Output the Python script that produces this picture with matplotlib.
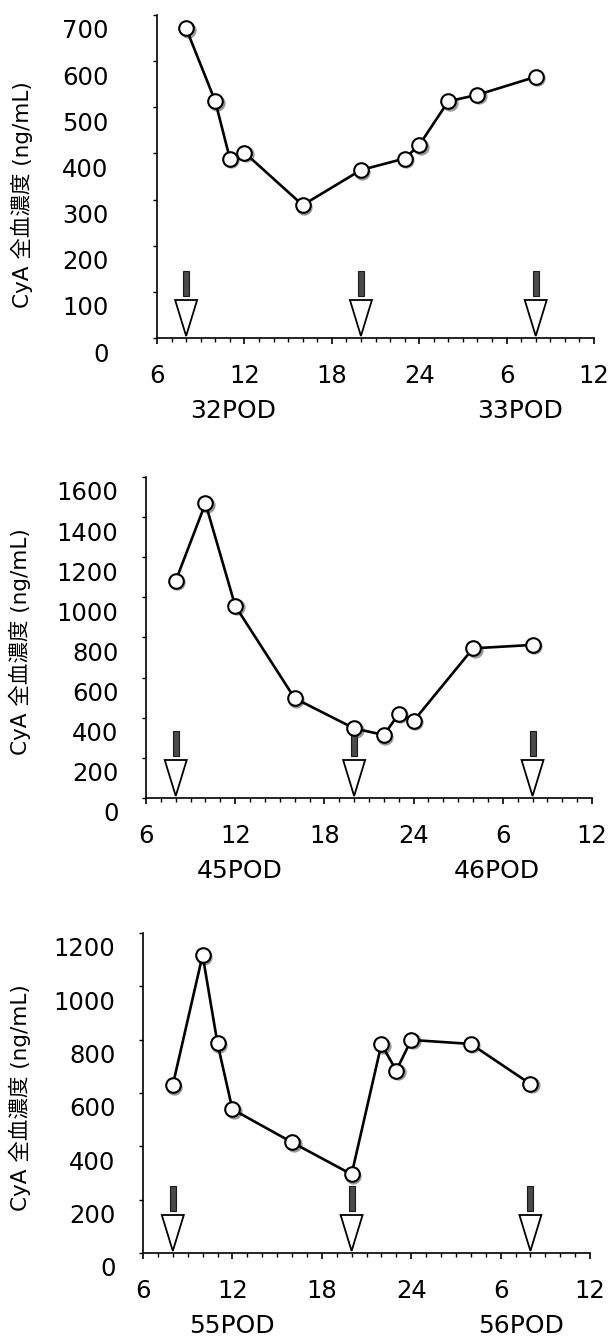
import matplotlib
matplotlib.use("Agg")
import matplotlib.pyplot as plt
from matplotlib import transforms
from matplotlib.patches import Polygon, Rectangle

plt.rcParams['font.family'] = ['DejaVu Sans', 'Noto Sans CJK JP']

W, H, DPI = 610, 1338, 100

# Sampling times (clock hour, continuing past 24 into the next day) and CyA levels
hours_32 = [8, 10, 11, 12, 16, 20, 23, 24, 26, 28, 32]
cya_32 = [671, 513, 389, 402, 288, 364, 389, 418, 513, 527, 566]

hours_45 = [8, 10, 12, 16, 20, 22, 23, 24, 28, 32]
cya_45 = [1083, 1469, 958, 497, 347, 314, 419, 384, 746, 763]

hours_55 = [8, 10, 11, 12, 16, 20, 22, 23, 24, 28, 32]
cya_55 = [630, 1117, 786, 539, 415, 295, 783, 684, 799, 784, 634]

# Dosing times (arrows)
dose_hours = [8, 20, 32]

x_ticks = [6, 12, 18, 24, 30, 36]
x_tick_labels = ['6', '12', '18', '24', '6', '12']

y_ticks_32 = [0, 100, 200, 300, 400, 500, 600, 700]
y_ticks_45 = [0, 200, 400, 600, 800, 1000, 1200, 1400, 1600]
y_ticks_55 = [0, 200, 400, 600, 800, 1000, 1200]

days_32 = ['32POD', '33POD']
days_45 = ['45POD', '46POD']
days_55 = ['55POD', '56POD']
day_label_hours_32 = [11.2, 30.9]
day_label_hours_45 = [12.3, 29.6]
day_label_hours_55 = [12.0, 31.4]

y_label = 'CyA 全血濃度 (ng/mL)'

# Panel boxes in pixels: left, right, top, bottom; y-label x and centre y; y tick pad (pt)
panels = [
    dict(h=hours_32, v=cya_32, yt=y_ticks_32, days=days_32, dh=day_label_hours_32,
         box=(157, 594, 15, 338), ylab=(22, 195), ypad=32),
    dict(h=hours_45, v=cya_45, yt=y_ticks_45, days=days_45, dh=day_label_hours_45,
         box=(146, 592, 477, 798), ylab=(20, 642), ypad=17),
    dict(h=hours_55, v=cya_55, yt=y_ticks_55, days=days_55, dh=day_label_hours_55,
         box=(143, 590, 933, 1253), ylab=(20, 1098), ypad=17),
]

fig = plt.figure(figsize=(W / DPI, H / DPI), dpi=DPI)
fig.patch.set_facecolor('white')

PX = 72.0 / DPI  # points per pixel
TICK_FS = 17.5


def dose_arrow(ax, x):
    """Open down-pointing triangle with a short dark stem, tip on the x-axis."""
    base = transforms.Affine2D().scale(fig.dpi / 100.0) + \
        transforms.ScaledTranslation(x, 0, ax.transData)
    tri = Polygon([(-11, 38), (11, 38), (0, 2)], closed=True, facecolor='white',
                  edgecolor='black', linewidth=1.3, transform=base, clip_on=False,
                  zorder=4)
    stem = Rectangle((-3, 42), 6, 25, facecolor='#4a4a4a', edgecolor='#1a1a1a',
                     linewidth=0.8, transform=base, clip_on=False, zorder=4)
    ax.add_patch(tri)
    ax.add_patch(stem)


for p in panels:
    left, right, top, bottom = p['box']
    ax = fig.add_axes([left / W, 1 - bottom / H, (right - left) / W, (bottom - top) / H])
    ax.set_xlim(6, 36)
    ax.set_ylim(0, p['yt'][-1])

    for s in ('top', 'right'):
        ax.spines[s].set_visible(False)
    for s in ('left', 'bottom'):
        ax.spines[s].set_linewidth(1.2)

    # shadow under the markers
    shadow = ax.transData + transforms.ScaledTranslation(1.5 / DPI, -1.5 / DPI,
                                                         fig.dpi_scale_trans)
    ax.plot(p['h'], p['v'], 'o', ms=10.5, mfc='#9a9a9a', mec='#9a9a9a', mew=1.2,
            transform=shadow, zorder=2, clip_on=False)
    ax.plot(p['h'], p['v'], '-', color='black', lw=1.9, zorder=3, clip_on=False)
    ax.plot(p['h'], p['v'], 'o', ms=10.5, mfc='white', mec='black', mew=1.5,
            zorder=5, clip_on=False)

    for dh in dose_hours:
        dose_arrow(ax, dh)

    ax.set_xticks(x_ticks)
    ax.set_xticklabels(x_tick_labels, fontsize=TICK_FS)
    ax.set_xticks(range(6, 37), minor=True)
    ax.tick_params(axis='x', which='major', direction='out', length=6 * PX,
                   width=1.2, pad=20 * PX)
    ax.tick_params(axis='x', which='minor', direction='out', length=3.5 * PX,
                   width=1.0)

    ax.set_yticks(p['yt'])
    ax.set_yticklabels([str(t) for t in p['yt']], fontsize=TICK_FS)
    ax.tick_params(axis='y', which='major', direction='out', length=4 * PX,
                   width=1.0, pad=p['ypad'])
    down = transforms.ScaledTranslation(0, -14 / DPI, fig.dpi_scale_trans)
    for lbl in ax.get_yticklabels():
        lbl.set_transform(lbl.get_transform() + down)

    for name, hx in zip(p['days'], p['dh']):
        ax.annotate(name, xy=(hx, 0), xycoords=('data', 'axes fraction'),
                    xytext=(0, -73 * PX), textcoords='offset points',
                    ha='center', va='center', fontsize=18)

    lx, ly = p['ylab']
    ax.set_ylabel(y_label, fontsize=15.5, va='center')
    ax.yaxis.set_label_coords((lx - left) / (right - left), (bottom - ly) / (bottom - top))

fig.savefig('out.png', dpi=DPI)
